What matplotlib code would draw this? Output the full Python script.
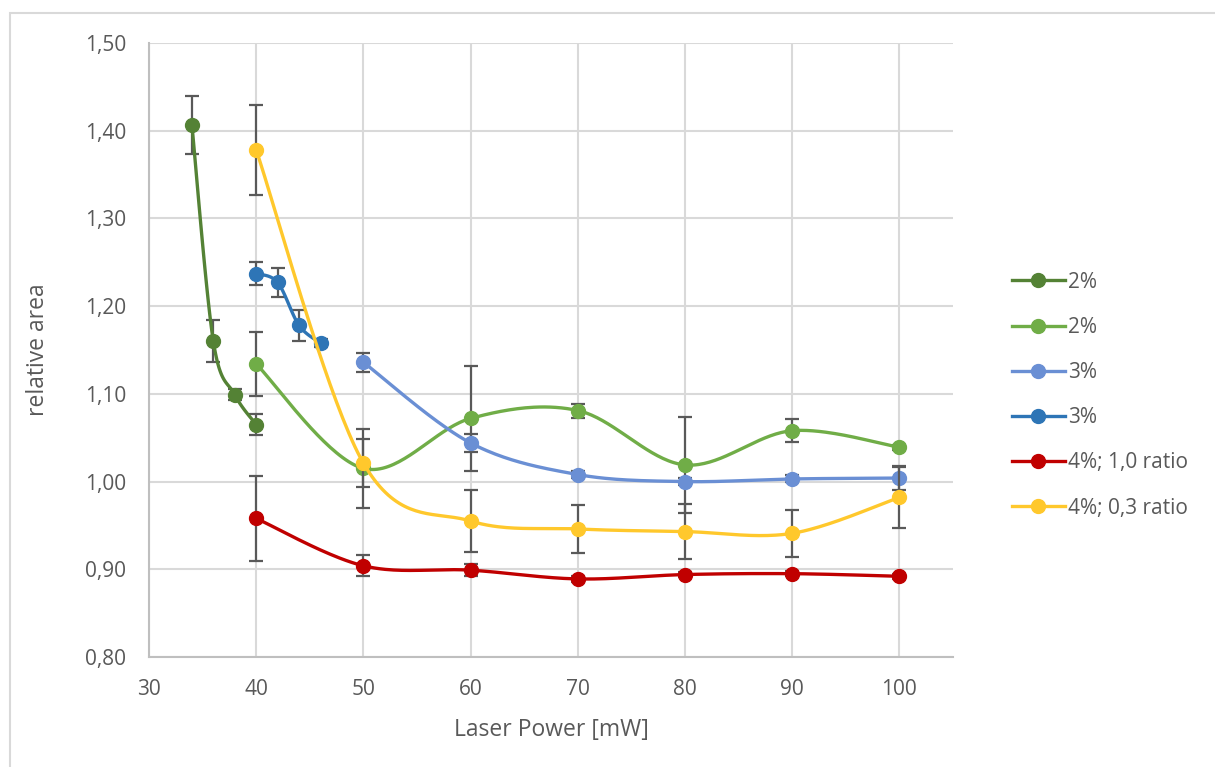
import numpy as np
import matplotlib
matplotlib.use("Agg")
import matplotlib.pyplot as plt
from matplotlib.lines import Line2D
from matplotlib.patches import Rectangle

plt.rcParams['font.family'] = ['Open Sans', 'DejaVu Sans']

# data
x_2a = [34, 36, 38, 40]
y_2a = [1.407, 1.160, 1.099, 1.065]
e_2a = [0.033, 0.024, 0.006, 0.012]

x_2b = [40, 50, 60, 70, 80, 90, 100]
y_2b = [1.134, 1.015, 1.072, 1.081, 1.019, 1.058, 1.039]
e_2b = [0.036, 0.045, 0.060, 0.008, 0.055, 0.013, 0.003]

x_3a = [50, 60, 70, 80, 90, 100]
y_3a = [1.136, 1.044, 1.008, 1.000, 1.003, 1.004]
e_3a = [0.011, 0.010, 0.004, 0.004, 0.004, 0.014]

x_3b = [40, 42, 44, 46]
y_3b = [1.237, 1.227, 1.178, 1.158]
e_3b = [0.013, 0.017, 0.018, 0.005]

x_4a = [40, 50, 60, 70, 80, 90, 100]
y_4a = [0.958, 0.904, 0.899, 0.889, 0.894, 0.895, 0.892]
e_4a = [0.048, 0.012, 0.007, 0.003, 0.003, 0.003, 0.003]

x_4b = [40, 50, 60, 70, 80, 90, 100]
y_4b = [1.378, 1.021, 0.955, 0.946, 0.943, 0.941, 0.982]
e_4b = [0.051, 0.027, 0.035, 0.027, 0.031, 0.027, 0.035]

labels = ['2%', '2%', '3%', '3%', '4%; 1,0 ratio', '4%; 0,3 ratio']
colors = ['#548235', '#70AD47', '#6A8FD4', '#2E75B6', '#C00000', '#FFC82C']
series = [(x_2a, y_2a, e_2a), (x_2b, y_2b, e_2b), (x_3a, y_3a, e_3a),
          (x_3b, y_3b, e_3b), (x_4a, y_4a, e_4a), (x_4b, y_4b, e_4b)]


def smooth(xs, ys, n=40):
    # Excel-like smoothed line: cubic bezier with catmull-rom control points
    p = np.column_stack([xs, ys]).astype(float)
    ext = np.vstack([p[0], p, p[-1]])
    out = [p[0]]
    t = np.linspace(0, 1, n)[1:, None]
    for i in range(len(p) - 1):
        p0, p1 = ext[i + 1], ext[i + 2]
        c1 = p0 + (ext[i + 2] - ext[i]) / 6
        c2 = p1 - (ext[i + 3] - ext[i + 1]) / 6
        seg = ((1 - t) ** 3) * p0 + 3 * ((1 - t) ** 2) * t * c1 + 3 * (1 - t) * t ** 2 * c2 + t ** 3 * p1
        out.extend(seg)
    out = np.array(out)
    return out[:, 0], out[:, 1]


fig = plt.figure(figsize=(12.15, 7.67), dpi=100)
ax = fig.add_axes([149 / 1215, 1 - 657 / 767, (953 - 149) / 1215, (657 - 43) / 767])

fig.patches.append(Rectangle((10 / 1215, -0.5), 1.5, 0.5 + 1 - 13 / 767,
                             transform=fig.transFigure, fill=False,
                             edgecolor='#D9D9D9', linewidth=1.5))

for k, ((xs, ys, es), c) in enumerate(zip(series, colors)):
    z = 3 + k
    ax.errorbar(xs, ys, yerr=es, fmt='none', ecolor='#595959', elinewidth=1.6,
                capsize=5, capthick=1.6, zorder=z)
    sx, sy = smooth(xs, ys)
    ax.plot(sx, sy, color=c, linewidth=2.4, zorder=z + 0.1, solid_capstyle='round')
    ax.plot(xs, ys, 'o', color=c, markersize=10, zorder=z + 0.2)

ax.set_xlim(30, 105)
ax.set_ylim(0.8, 1.5)
ax.set_xticks(np.arange(30, 101, 10))
ax.set_yticks(np.arange(0.8, 1.501, 0.1))
ax.set_yticklabels([f'{v:.2f}'.replace('.', ',') for v in np.arange(0.8, 1.501, 0.1)])
ax.grid(True, color='#D9D9D9', linewidth=1.5)
ax.set_axisbelow(True)
for s in ['top', 'right']:
    ax.spines[s].set_visible(False)
for s in ['left', 'bottom']:
    ax.spines[s].set_color('#BFBFBF')
    ax.spines[s].set_linewidth(1.5)
ax.tick_params(length=0, labelsize=15, colors='#595959')
ax.tick_params(axis='x', pad=16)
ax.tick_params(axis='y', pad=16.5)

ax.set_xlabel('Laser Power [mW]', fontsize=16.5, color='#595959', labelpad=13)
ax.set_ylabel('relative area', fontsize=16.5, color='#595959', labelpad=25)

handles = [Line2D([], [], color=c, linewidth=2.4, marker='o', markersize=10) for c in colors]
fig.legend(handles, labels, loc='upper left', bbox_to_anchor=(993 / 1215, 1 - 253 / 767),
           frameon=False, fontsize=15, labelcolor='#595959', handlelength=2.55,
           handletextpad=0.15, labelspacing=1.16)

fig.savefig('out.png', dpi=100)
